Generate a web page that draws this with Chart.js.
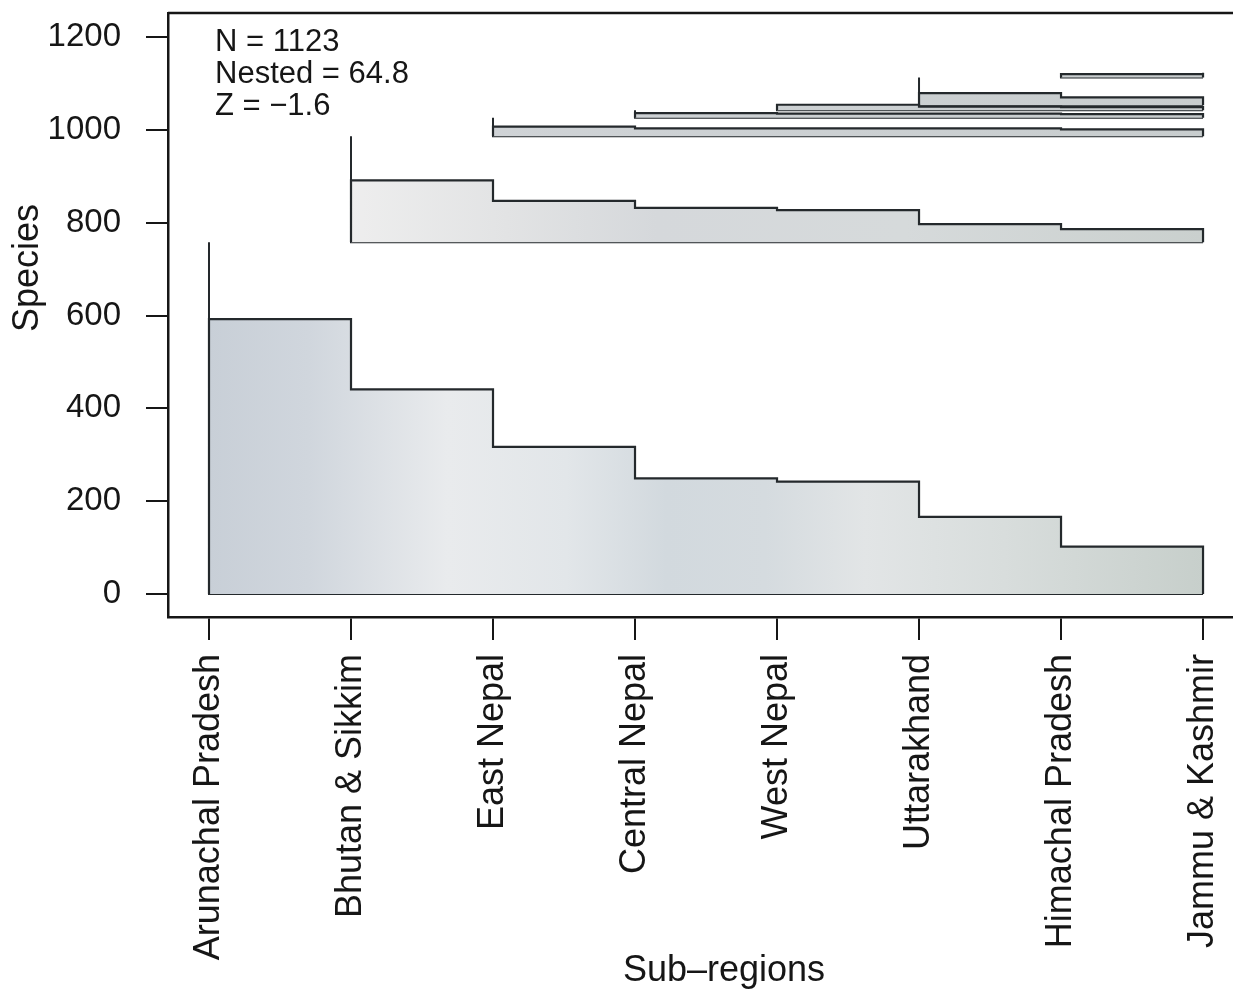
<!DOCTYPE html>
<html>
<head>
<meta charset="utf-8">
<title>Nestedness by sub-region</title>
<script src="https://cdn.jsdelivr.net/npm/chart.js@4/dist/chart.umd.min.js"></script>
<style>
	html, body { margin: 0; padding: 0; background: #fff; overflow: hidden; }
	canvas { display: block; }
</style>
</head>
<body>
<canvas id="nest" width="1300" height="996"></canvas>
<script>

// sub-regions, east to west
const regions = ['Arunachal Pradesh', 'Bhutan & Sikkim', 'East Nepal', 'Central Nepal',
	'West Nepal', 'Uttarakhand', 'Himachal Pradesh', 'Jammu & Kashmir'];

// each band starts at its own sub-region and sits on a base level
const bandBase = [0, 758, 986, 1026, 1042, 1053, 1113, 1121];
const totalSpecies = 1123;

// band heights (species), one step per sub-region from the band's start
const bandTops = [
	[592, 441, 317, 249, 242, 166, 102],
	[891, 847, 832, 827, 797, 786],
	[1007, 1003, 1003, 1003, 1001],
	[1036, 1035, 1035, 1034],
	[1054, 1050, 1049],
	[1079, 1070],
	[1120],
	[]
];

const yTicks = [0, 200, 400, 600, 800, 1000, 1200];
const stats = ['N = 1123', 'Nested = 64.8', 'Z = \u22121.6'];

const ink = '#161616';
const edge = '#24292c';
const font = '"Liberation Sans", Arial, Helvetica, sans-serif';

// fill shades along the x range, per band
const shades = [
	[[0, '#c8cfd7'], [0.1, '#d0d6dd'], [0.24, '#e9ebed'], [0.36, '#e2e6e9'], [0.46, '#d2d9de'],
		[0.56, '#d5dbdf'], [0.66, '#e2e5e6'], [0.8, '#d8dddc'], [1, '#c7cfcb']],
	[[0.14, '#eeeeee'], [0.3, '#e2e3e4'], [0.45, '#d5d8db'], [0.7, '#d6dadb'], [1, '#cad0ce']],
	[[0, '#d2d5d9'], [1, '#c8cdce']]
];

function bandFill(band) {
	return function(context) {
		const chart = context.chart;
		if(!chart.chartArea) {
			return null;
		}
		const x = chart.scales.x;
		const g = chart.ctx.createLinearGradient(x.getPixelForValue(0), 0, x.getPixelForValue(7), 0);
		const stops = shades[Math.min(band, shades.length - 1)];
		stops.forEach(function(s) {
			g.addColorStop(s[0], s[1]);
		});
		return g;
	};
}

const datasets = [];
const last = regions.length - 1;

bandBase.forEach(function(base, k) {
	const tops = bandTops[k];
	const next = k + 1 < bandBase.length ? bandBase[k + 1] : totalSpecies;

	if(tops.length) {
		const pts = [{x: k, y: base}];
		tops.forEach(function(t, i) {
			pts.push({x: k + i, y: t});
		});
		pts.push({x: last, y: tops[tops.length - 1]});
		pts.push({x: last, y: base});

		datasets.push({
			data: pts,
			stepped: true,
			fill: {value: base},
			backgroundColor: bandFill(k),
			borderColor: edge,
			borderWidth: 2.2,
			pointRadius: 0
		});
	}

	// start marker up to the next base, then the band's floor
	const floor = [{x: k, y: next}, {x: k, y: base}];
	if(tops.length) {
		floor.push({x: last, y: base});
	}
	datasets.push({
		data: floor,
		fill: false,
		borderColor: edge,
		borderWidth: 2,
		pointRadius: 0
	});
});

const frame = {
	id: 'frame',
	afterDraw(chart) {
		const ctx = chart.ctx;
		const a = chart.chartArea;

		ctx.save();
		ctx.strokeStyle = ink;
		ctx.lineWidth = 2.5;
		ctx.beginPath();
		ctx.moveTo(a.left, a.top);
		ctx.lineTo(a.right, a.top);
		ctx.lineTo(a.right, a.bottom);
		ctx.stroke();

		ctx.fillStyle = ink;
		ctx.textAlign = 'left';
		ctx.textBaseline = 'middle';
		ctx.font = '31px ' + font;
		stats.forEach(function(s, i) {
			ctx.fillText(s, a.left + 47, a.top + 29 + i * 32);
		});

		ctx.font = '36px ' + font;
		ctx.textAlign = 'center';
		ctx.fillText('Sub\u2013regions', a.left + 556, a.bottom + 354);

		ctx.translate(a.left - 140, a.top + 255);
		ctx.rotate(-Math.PI / 2);
		ctx.fillText('Species', 0, 0);
		ctx.restore();
	}
};

new Chart(document.getElementById('nest'), {
	type: 'line',
	data: {datasets: datasets},
	plugins: [frame],
	options: {
		responsive: false,
		animation: false,
		devicePixelRatio: 1,
		layout: {
			padding: {left: 0, top: 13, right: 20, bottom: 0}
		},
		plugins: {
			legend: {display: false},
			tooltip: {enabled: false}
		},
		scales: {
			x: {
				type: 'linear',
				min: -0.2887,
				max: 7.542,
				afterBuildTicks(scale) {
					scale.ticks = regions.map(function(r, i) {
						return {value: i};
					});
				},
				afterFit(scale) {
					scale.height = 379;
					scale.paddingLeft = 0;
					scale.paddingRight = 0;
				},
				grid: {
					drawOnChartArea: false,
					color: ink,
					lineWidth: 2,
					tickLength: 23
				},
				border: {color: ink, width: 2.5},
				ticks: {
					autoSkip: false,
					minRotation: 90,
					maxRotation: 90,
					padding: 14,
					color: ink,
					font: {family: font, size: 36},
					callback(v) {
						return regions[v];
					}
				}
			},
			y: {
				min: -49.5,
				max: 1251.7,
				afterBuildTicks(scale) {
					scale.ticks = yTicks.map(function(v) {
						return {value: v};
					});
				},
				afterFit(scale) {
					scale.width = 168;
					scale.paddingTop = 0;
					scale.paddingBottom = 0;
				},
				grid: {
					drawOnChartArea: false,
					color: ink,
					lineWidth: 2,
					tickLength: 22
				},
				border: {color: ink, width: 2.5},
				ticks: {
					padding: 25,
					color: ink,
					font: {family: font, size: 33},
					callback(v) {
						return String(v);
					}
				}
			}
		}
	}
});
</script>
</body>
</html>
